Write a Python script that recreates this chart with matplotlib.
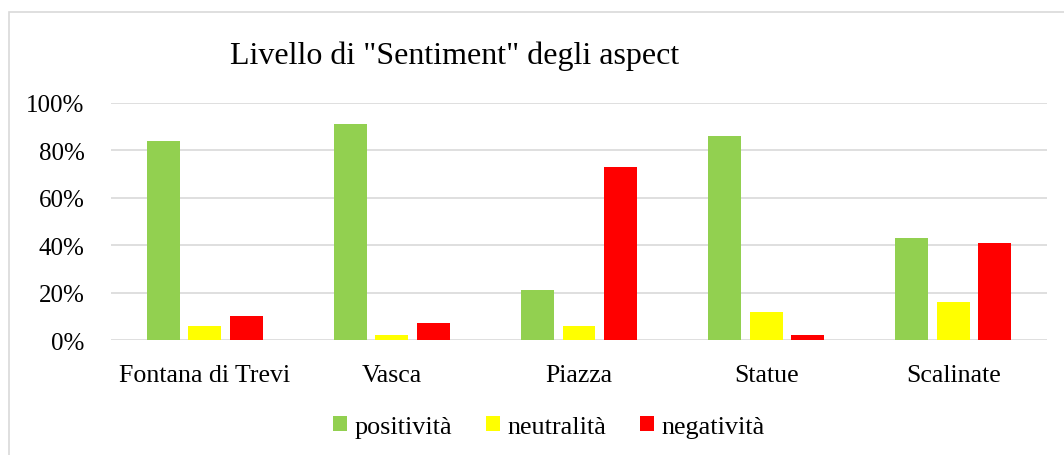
import matplotlib
matplotlib.use("Agg")
import matplotlib.pyplot as plt
import numpy as np
from matplotlib.patches import Rectangle, Patch
from matplotlib.ticker import PercentFormatter

plt.rcParams['font.family'] = ['Liberation Serif', 'DejaVu Serif']

categories = ['Fontana di Trevi', 'Vasca', 'Piazza', 'Statue', 'Scalinate']
positivita = [84, 91, 21, 86, 43]
neutralita = [6, 2, 6, 12, 16]
negativita = [10, 7, 73, 2, 41]

series = [('positività', positivita, '#92D050'),
          ('neutralità', neutralita, '#FFFF00'),
          ('negatività', negativita, '#FF0000')]

fig = plt.figure(figsize=(10.64, 4.56), dpi=100)
ax = fig.add_axes([111 / 1064, 1 - 341 / 456, (1047 - 111) / 1064, (341 - 104) / 456])

x = np.arange(len(categories))
width = 0.176
step = 0.222
for i, (name, vals, col) in enumerate(series):
    ax.bar(x + (i - 1) * step, vals, width=width, color=col, label=name, zorder=3)

ax.set_xlim(-0.5, len(categories) - 0.5)
ax.set_ylim(0, 100)
ax.set_yticks(range(0, 101, 20))
ax.yaxis.set_major_formatter(PercentFormatter(decimals=0))
ax.set_xticks(x)
ax.set_xticklabels(categories)
ax.grid(axis='y', color='#d9d9d9', linewidth=1.2, zorder=0)
for s in ax.spines.values():
    s.set_visible(False)
ax.tick_params(axis='both', length=0, labelsize=18, colors='black')
ax.tick_params(axis='x', pad=17, labelsize=18.6)
ax.tick_params(axis='y', pad=19)

fig.text(230 / 1064, 1 - 56 / 456, 'Livello di "Sentiment" degli aspect',
         fontsize=23, ha='left', va='center')

handles = [Patch(facecolor=c, label=n) for n, _, c in series]
fig.legend(handles=handles, loc='center', bbox_to_anchor=(549 / 1064, 1 - 428 / 456),
           ncol=3, frameon=False, fontsize=18.8, handlelength=0.52, handleheight=0.52,
           handletextpad=0.3, columnspacing=1.3)

fig.patches.append(Rectangle((9 / 1064, -0.1), 1.2, 1 - 13 / 456 + 0.1,
                             transform=fig.transFigure, fill=False,
                             edgecolor='#d9d9d9', linewidth=1.2))

fig.savefig('out.png', dpi=100)
